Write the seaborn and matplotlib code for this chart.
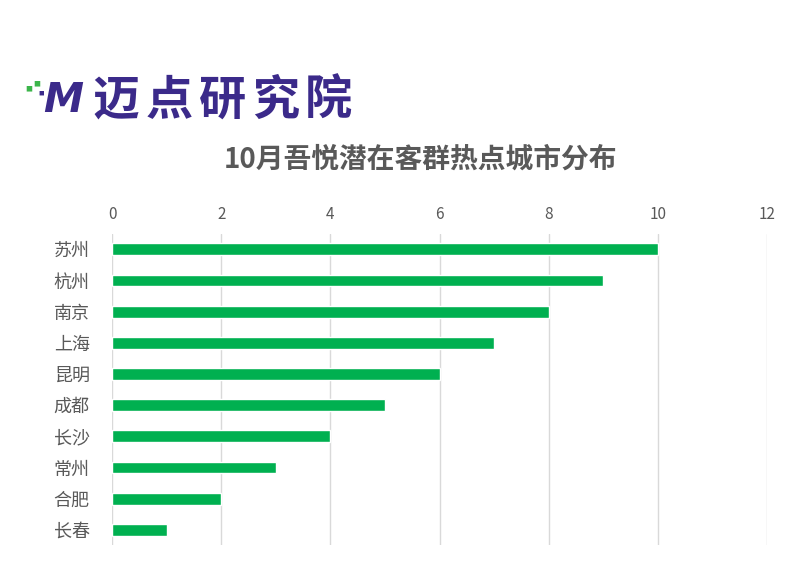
import matplotlib
matplotlib.use('Agg')
import matplotlib.pyplot as plt
import seaborn as sns
import pandas as pd

cities = ['苏州', '杭州', '南京', '上海', '昆明', '成都', '长沙', '常州', '合肥', '长春']
values = [10, 9, 8, 7, 6, 5, 4, 3, 2, 1]
title = '10月吾悦潜在客群热点城市分布'
logo = '迈点研究院'

sns.set_style('white')
plt.rcParams['font.family'] = ['Noto Sans CJK SC', 'DejaVu Sans']

df = pd.DataFrame({'city': cities, 'value': values})

fig = plt.figure(figsize=(8, 5.7), dpi=100)
ax = fig.add_axes([0.14, 0.043, 0.819, 0.547])
sns.barplot(data=df, x='value', y='city', color='#00B050', width=0.38,
            saturation=1, ax=ax)

ax.set_xlim(0, 12)
ax.set_xticks(range(0, 13, 2))
ax.xaxis.tick_top()
ax.xaxis.grid(True, color='#D9D9D9', linewidth=1)
ax.set_axisbelow(True)
ax.tick_params(axis='x', length=0, labelsize=11, colors='#595959', pad=8)
ax.tick_params(axis='y', length=0, labelsize=13, colors='#595959', pad=16)
ax.set_xlabel('')
ax.set_ylabel('')
for s in ax.spines.values():
    s.set_visible(False)

fig.text(0.525, 0.72, title, ha='center', va='center', fontsize=20,
         fontweight='bold', color='#595959')

# logo
purple = '#3B2A8A'
green = '#3CB54A'
fig.text(0.054, 0.823, 'M', ha='left', va='center', fontsize=29,
         fontweight='heavy', style='italic', color=purple, family=['DejaVu Sans'])
fig.text(0.032, 0.843, '■', ha='left', va='center', fontsize=5, color=green)
fig.text(0.042, 0.852, '■', ha='left', va='center', fontsize=5, color=green)
fig.text(0.048, 0.836, '■', ha='left', va='center', fontsize=4, color=purple)
for i, ch in enumerate(logo):
    fig.text((90 + 26.5 + 53 * i) / 800, 0.823, ch, ha='center', va='center',
             fontsize=34, fontweight='heavy', color=purple)

fig.savefig('out.png', dpi=100)
